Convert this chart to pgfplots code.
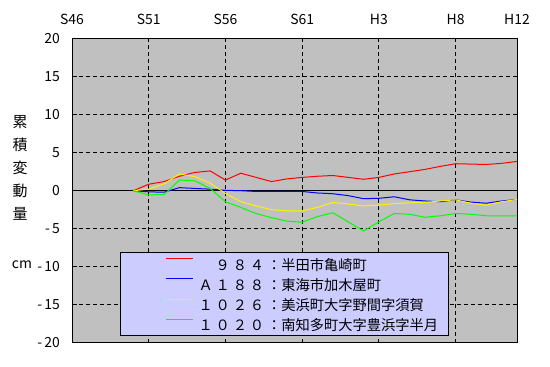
\documentclass[border=0pt]{standalone}
\usepackage{fontspec}
\setmainfont{Noto Sans CJK JP}
\usepackage{pgfplots}
\pgfplotsset{compat=1.18}
\usepackage{pgfplotstable}
\definecolor{plotbg}{HTML}{C0C0C0}
\definecolor{legbg}{HTML}{CCCCFF}
\newcommand\dg[1]{#1\kern2.9bp}

\pgfplotstableread{
year red blue yellow green
1975 0 0 0 0
1976 0.85 -0.15 0.2 -0.55
1977 1.2 -0.2 0.9 -0.5
1978 1.9 0.4 2.2 1.4
1979 2.4 0.3 1.85 1.3
1980 2.6 0.2 1.0 0.3
1981 1.4 0.05 -0.35 -1.45
1982 2.3 0 -1.45 -2.2
1983 1.75 -0.1 -2.0 -3.0
1984 1.2 -0.1 -2.5 -3.55
1985 1.55 -0.1 -2.65 -4.0
1986 1.75 -0.1 -2.65 -4.15
1987 1.9 -0.3 -2.2 -3.4
1988 2.0 -0.4 -1.55 -2.9
1989 1.75 -0.65 -1.75 -4.1
1990 1.5 -1.05 -2.0 -5.3
1991 1.75 -1.0 -1.9 -4.1
1992 2.2 -0.8 -1.7 -3.0
1993 2.5 -1.2 -1.6 -3.1
1994 2.8 -1.35 -1.55 -3.5
1995 3.2 -1.45 -1.35 -3.3
1996 3.55 -1.2 -1.2 -3.0
1997 3.5 -1.5 -1.65 -3.1
1998 3.45 -1.65 -1.9 -3.3
1999 3.6 -1.35 -1.45 -3.3
2000 3.85 -1.15 -1.15 -3.3
}\datatable

\begin{document}
\begin{tikzpicture}
\useasboundingbox (0bp,0bp) rectangle (550bp,367bp);
\begin{axis}[
  at={(72bp,24.3bp)}, anchor=south west,
  width=445bp, height=304bp, scale only axis,
  xmin=1971, xmax=2000, ymin=-20, ymax=20,
  axis background/.style={fill=plotbg},
  axis line style={black, line width=1bp},
  xtick={1971,1976,1981,1986,1991,1996,2000},
  xticklabels={S46,S51,S56,S61,H3,H8,H12},
  xticklabel pos=upper,
  ytick={-20,-15,...,20},
  yticklabels={-\kern2bp20,-\kern2bp15,-\kern2bp10,-\kern2bp5,0,5,10,15,20},
  ytick pos=left,
  tick align=inside,
  major tick length=5bp,
  xtick style={draw=none},
  ytick style={black, line width=1bp},
  grid=major,
  major grid style={black, line width=1bp, dash pattern=on 4bp off 3bp},
  extra y ticks={0}, extra y tick labels={},
  extra y tick style={grid=major, major grid style={solid, black, line width=1bp}},
  ticklabel style={font=\fontsize{14}{14}\selectfont},
  xticklabel style={inner sep=0pt, anchor=south, yshift=14bp},
  yticklabel style={inner sep=0pt, anchor=east, xshift=-12bp},
  legend style={at={(0.1079,0.2984)}, anchor=north west,
    fill=legbg, draw=black, line width=1bp,
    inner xsep=0pt, inner ysep=1bp, row sep=0pt, column sep=0pt,
    font=\fontsize{14.3}{14.3}\selectfont,
    nodes={inner sep=0pt, text height=16.6bp, text depth=3.7bp, text width=250bp, align=left}},
  legend cell align=left,
  legend image code/.code={\path[draw=none, fill=none] (-45bp,5bp) rectangle (33bp,5.1bp);
    \draw[#1, line width=1bp] (0bp,5bp) -- (27bp,5bp);},
]
\addplot[red, line width=1bp] table[x=year, y=red] {\datatable};
\addlegendentry{\dg{　}\dg{９}\dg{８}\dg{４}：半田市亀崎町}
\addplot[blue, line width=1bp] table[x=year, y=blue] {\datatable};
\addlegendentry{\dg{Ａ}\dg{１}\dg{８}\dg{８}：東海市加木屋町}
\addplot[yellow, line width=1bp] table[x=year, y=yellow] {\datatable};
\addlegendentry{\dg{１}\dg{０}\dg{２}\dg{６}：美浜町大字野間字須賀}
\addplot[green, line width=1bp] table[x=year, y=green] {\datatable};
\addlegendentry{\dg{１}\dg{０}\dg{２}\dg{０}：南知多町大字豊浜字半月}
\end{axis}
\node[font=\fontsize{15}{23}\selectfont, align=center, inner sep=0pt] at (20bp,199bp) {累\\積\\変\\動\\量};
\node[font=\fontsize{14}{14}\selectfont, inner sep=0pt] at (22bp,102bp) {cm};
\end{tikzpicture}
\end{document}
